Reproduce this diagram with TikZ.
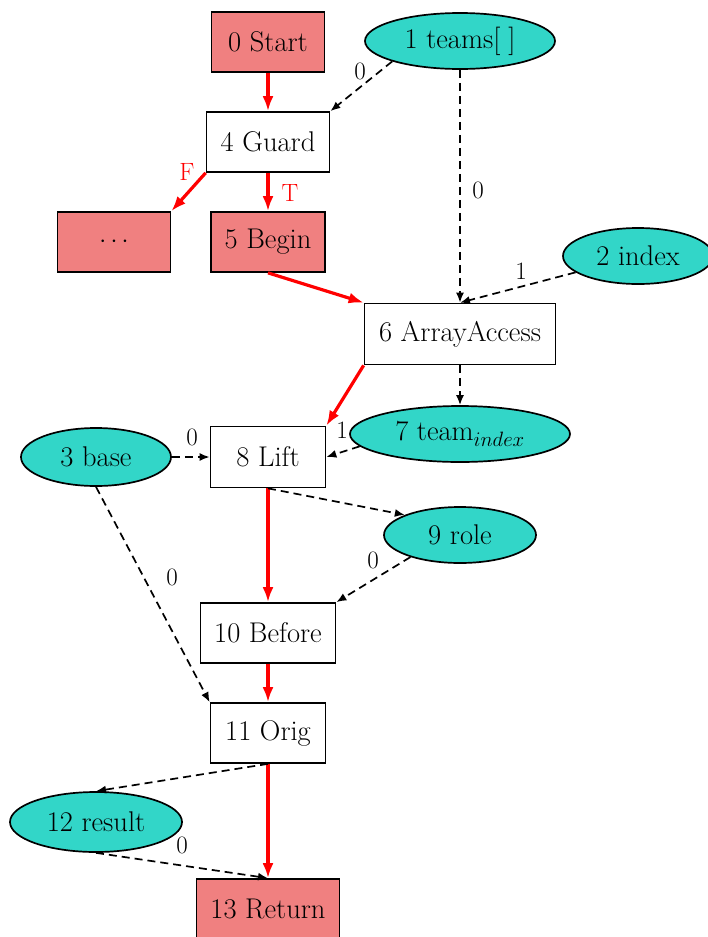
\documentclass[tikz,border=0pt]{standalone}
\usetikzlibrary{arrows.meta,shapes.geometric}
\definecolor{ctrlfill}{RGB}{240,128,128}
\definecolor{datafill}{RGB}{50,214,200}
\begin{document}
\begin{tikzpicture}[x=1pt,y=-1pt,
  every node/.style={font=\fontsize{28.5}{32}\selectfont, inner sep=0pt},
  box/.style={draw, line width=1.7pt, rectangle, minimum height=60pt},
  ctrl/.style={box, fill=ctrlfill},
  plain/.style={box, fill=white},
  val/.style={draw, line width=1.7pt, ellipse, fill=datafill, minimum height=56pt},
  flow/.style={draw=red, line width=3.2pt, -{Latex[length=15pt,width=11pt]}},
  dep/.style={draw=black, line width=1.7pt, dash pattern=on 8pt off 5pt, -{Latex[length=10pt,width=8pt]}},
  lbl/.style={font=\fontsize{25}{28}\selectfont},
  redlbl/.style={lbl, text=red}]
\useasboundingbox (0,0) rectangle (707,937);

% control nodes
\node[ctrl,  minimum width=113pt] (n0)  at (268,42)  {0 Start};
\node[plain, minimum width=123pt] (n4)  at (268,142) {4 Guard};
\node[ctrl,  minimum width=113pt] (nd)  at (114,242) {$\cdots$};
\node[ctrl,  minimum width=114pt] (n5)  at (268,242) {5 Begin};
\node[plain, minimum width=191pt, minimum height=61pt] (n6) at (460,334) {6 ArrayAccess};
\node[plain, minimum width=115pt, minimum height=61pt] (n8) at (268,457) {8 Lift};
\node[plain, minimum width=135pt] (n10) at (268,633) {10 Before};
\node[plain, minimum width=115pt] (n11) at (268,733) {11 Orig};
\node[ctrl,  minimum width=143pt] (n13) at (268,909) {13 Return};

% value nodes
\node[val, minimum width=190pt] (n1)  at (460,41)  {1 teams[\;]};
\node[val, minimum width=150pt] (n2)  at (638,256) {2 index};
\node[val, minimum width=220pt] (n7)  at (460,434) {7 team$_{index}$};
\node[val, minimum width=150pt, minimum height=58pt] (n3) at (96,457) {3 base};
\node[val, minimum width=152pt] (n9)  at (460,535) {9 role};
\node[val, minimum width=172pt, minimum height=60pt] (n12) at (96,822) {12 result};

% control flow
\draw[flow] (n0) -- (n4);
\draw[flow] (n4.south west) -- (nd.north east);
\draw[flow] (n4) -- (n5);
\draw[flow] (n5.south) -- (n6.north west);
\draw[flow] (n6.south west) -- (n8.north east);
\draw[flow] (n8) -- (n10);
\draw[flow] (n10) -- (n11);
\draw[flow] (n11) -- (n13);

% data dependencies
\draw[dep] (n1.south west) -- (n4.north east);
\draw[dep] (n1.south) -- (n6.north);
\draw[dep] (n2) -- (n6.north);
\draw[dep] (n6.south) -- (n7.north);
\draw[dep] (n7.187) -- (n8.east);
\draw[dep] (n3) -- (n8);
\draw[dep] (n8.south) -- (n9.160);
\draw[dep] (n9.204) -- (n10.north east);
\draw[dep] (n3.south) -- (n11.north west);
\draw[dep] (n11.south) -- (n12.north);
\draw[dep] (n12.south) -- (n13.north);

% edge labels
\node[lbl]    (l1)  at (360,71)  {0};
\node[lbl]    (l2)  at (478,190) {0};
\node[redlbl] (lF)  at (187,172) {F};
\node[redlbl] (lT)  at (290,193) {T};
\node[lbl]    (l3)  at (521,271) {1};
\node[lbl]    (l4)  at (342,430) {1};
\node[lbl]    (l5)  at (192,437) {0};
\node[lbl]    (l6)  at (172,577) {0};
\node[lbl]    (l7)  at (373,560) {0};
\node[lbl]    (l8)  at (182,845) {0};
\end{tikzpicture}
\end{document}
